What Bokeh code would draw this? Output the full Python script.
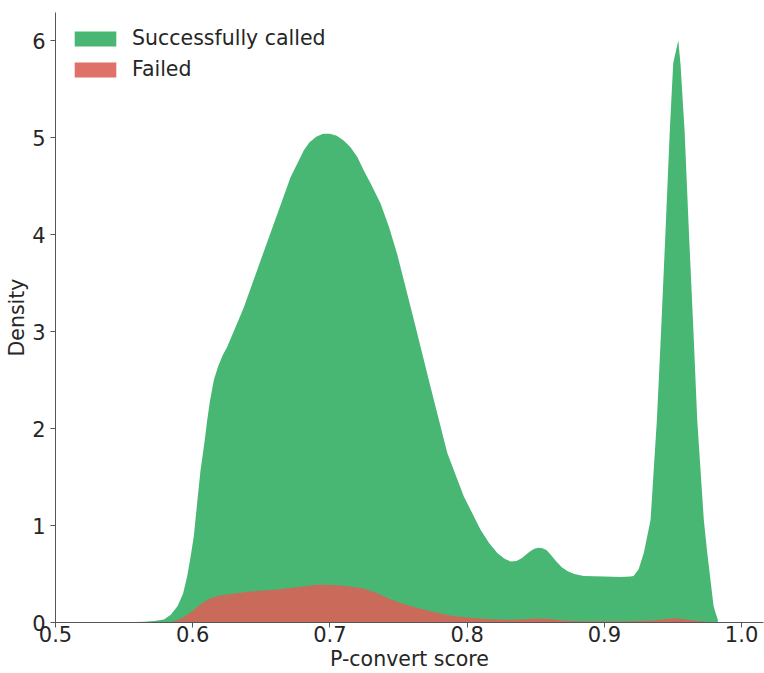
from bokeh.plotting import figure
from bokeh.models import Range1d, FixedTicker, Legend, LegendItem
from bokeh.embed import file_html
from bokeh.resources import INLINE

# ---- data ----
score_called = [0.50, 0.55, 0.565, 0.572, 0.579, 0.584, 0.589, 0.593, 0.596, 0.5985,
                0.6008, 0.603, 0.6057, 0.6085, 0.6106, 0.6125, 0.6154, 0.6185, 0.622, 0.6251,
                0.6373, 0.6494, 0.6616, 0.6713, 0.681, 0.685, 0.690, 0.695, 0.700, 0.705,
                0.710, 0.715, 0.720, 0.7247, 0.730, 0.7369, 0.743, 0.749, 0.7612, 0.7733,
                0.7855, 0.7976, 0.8098, 0.816, 0.822, 0.827, 0.8316, 0.836, 0.840, 0.843,
                0.846, 0.849, 0.852, 0.855, 0.858, 0.8608, 0.865, 0.869, 0.873, 0.878,
                0.885, 0.900, 0.912, 0.919, 0.9213, 0.925, 0.9288, 0.9337, 0.9383, 0.9415,
                0.9446, 0.9477, 0.9502, 0.9539, 0.9555, 0.9585, 0.9616, 0.9648, 0.9677, 0.9725,
                0.975, 0.9796, 0.9815, 0.9827]
density_called = [0.0, 0.002, 0.008, 0.015, 0.03, 0.08, 0.17, 0.30, 0.48, 0.68,
                  0.89, 1.20, 1.57, 1.85, 2.09, 2.28, 2.50, 2.64, 2.76, 2.84,
                  3.25, 3.73, 4.21, 4.59, 4.87, 4.95, 5.01, 5.04, 5.04, 5.02,
                  4.97, 4.90, 4.80, 4.66, 4.52, 4.32, 4.08, 3.80, 3.12, 2.43,
                  1.75, 1.30, 0.957, 0.82, 0.717, 0.66, 0.63, 0.635, 0.665, 0.70,
                  0.735, 0.76, 0.77, 0.765, 0.745, 0.70, 0.63, 0.57, 0.53, 0.50,
                  0.48, 0.475, 0.47, 0.475, 0.48, 0.55, 0.72, 1.06, 2.09, 3.05,
                  4.04, 5.07, 5.77, 6.00, 5.76, 5.07, 4.04, 3.05, 2.09, 1.06,
                  0.72, 0.17, 0.08, 0.03]

score_failed = [0.50, 0.575, 0.5838, 0.59, 0.595, 0.6008, 0.607, 0.613, 0.619, 0.625,
                0.642, 0.6616, 0.671, 0.68, 0.6907, 0.70, 0.71, 0.7247, 0.735, 0.744,
                0.7536, 0.7636, 0.775, 0.788, 0.8025, 0.815, 0.83, 0.84, 0.85, 0.86,
                0.87, 0.88, 0.90, 0.92, 0.935, 0.945, 0.95, 0.955, 0.965, 0.975, 0.98]
density_failed = [0.0, 0.0, 0.003, 0.03, 0.07, 0.13, 0.20, 0.25, 0.275, 0.29,
                  0.32, 0.34, 0.357, 0.37, 0.39, 0.39, 0.38, 0.35, 0.30, 0.24,
                  0.19, 0.15, 0.11, 0.07, 0.05, 0.035, 0.028, 0.032, 0.04, 0.035,
                  0.02, 0.012, 0.01, 0.012, 0.02, 0.035, 0.045, 0.038, 0.02, 0.005, 0.0]

x_ticks = [0.5, 0.6, 0.7, 0.8, 0.9, 1.0]
x_tick_labels = ["0.5", "0.6", "0.7", "0.8", "0.9", "1.0"]
y_ticks = [0, 1, 2, 3, 4, 5, 6]
y_tick_labels = ["0", "1", "2", "3", "4", "5", "6"]
series_labels = ["Successfully called", "Failed"]

GREEN = "#48b774"
RED_AREA = "#c96a5a"
RED_LEGEND = "#e0706a"
FONT = "DejaVu Sans"
TEXT = "#262626"
AXIS = "#555555"

p = figure(width=764, height=673, output_backend="svg", toolbar_location=None,
           x_range=Range1d(0.5, 1.016), y_range=Range1d(0, 6.29),
           min_border_left=55, min_border_right=1, min_border_top=12, min_border_bottom=50)
p.outline_line_color = None
p.xgrid.visible = False
p.ygrid.visible = False
p.background_fill_color = "white"

g = p.varea(x=score_called, y1=0, y2=density_called, fill_color=GREEN)
r = p.varea(x=score_failed, y1=0, y2=density_failed, fill_color=RED_AREA)
# legend-only swatch (zero-area patch at the origin)
r_leg = p.varea(x=[0.5, 0.5001], y1=[0, 0], y2=[0, 0], fill_color=RED_LEGEND)

for ax, ticks, labels, name in ((p.xaxis[0], x_ticks, x_tick_labels, "P-convert score"),
                                (p.yaxis[0], y_ticks, y_tick_labels, "Density")):
    ax.ticker = FixedTicker(ticks=ticks)
    ax.major_label_overrides = {t: l for t, l in zip(ticks, labels)}
    ax.axis_label = name
    ax.axis_label_text_font = FONT
    ax.axis_label_text_font_size = "20.5px"
    ax.axis_label_text_font_style = "normal"
    ax.axis_label_text_color = TEXT
    ax.major_label_text_font = FONT
    ax.major_label_text_font_size = "21px"
    ax.major_label_text_color = TEXT
    ax.axis_line_color = AXIS
    ax.major_tick_line_color = AXIS
    ax.minor_tick_line_color = None
    ax.major_tick_out = 5
    ax.major_tick_in = 0

p.xaxis[0].major_label_standoff = -2
p.xaxis[0].axis_label_standoff = 2
p.yaxis[0].major_label_standoff = 5
p.yaxis[0].axis_label_standoff = 0

legend = Legend(items=[LegendItem(label=series_labels[0], renderers=[g]),
                       LegendItem(label=series_labels[1], renderers=[r_leg])],
                location="top_left", margin=14, padding=0,
                glyph_width=52, glyph_height=19, label_standoff=11, spacing=7,
                label_text_font=FONT, label_text_font_size="20.5px", label_text_color=TEXT,
                label_text_line_height=1.0,
                background_fill_alpha=0, border_line_color=None)
p.add_layout(legend, "center")

open("out.html", "w").write(file_html(p, INLINE))
